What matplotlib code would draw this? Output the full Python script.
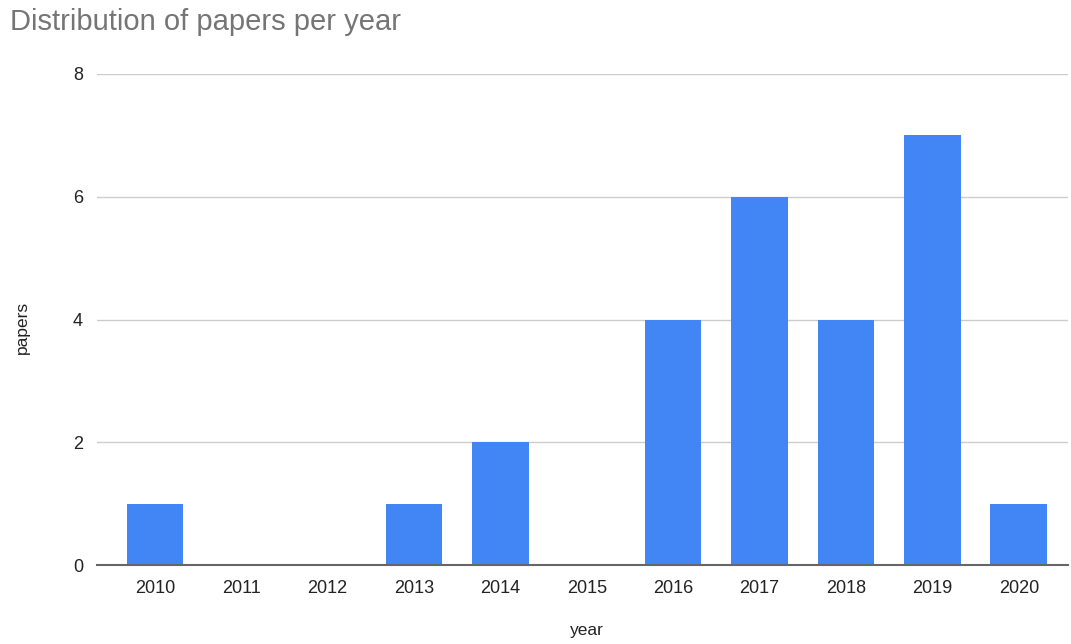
import matplotlib.pyplot as plt

# Data.
years = ["2010", "2011", "2012", "2013", "2014", "2015",
         "2016", "2017", "2018", "2019", "2020"]
papers = [1, 0, 0, 1, 2, 0, 4, 6, 4, 7, 1]

plt.rcParams["font.family"] = ["Liberation Sans", "DejaVu Sans"]

fig = plt.figure(figsize=(10.71, 6.44), dpi=100)
ax = fig.add_axes([97 / 1071, 79 / 644, 971 / 1071, 491 / 644])

x = list(range(len(years)))
ax.bar(x, papers, width=0.655, color="#4285F4", zorder=3)

ax.set_xlim(-0.67, 10.57)
ax.set_ylim(0, 8)
ax.set_yticks([0, 2, 4, 6, 8])
ax.set_xticks(x)
ax.set_xticklabels(years)

ax.grid(axis="y", color="#cccccc", linewidth=1, zorder=0)
for s in ["top", "right", "left"]:
    ax.spines[s].set_visible(False)
ax.spines["bottom"].set_color("#666666")
ax.spines["bottom"].set_linewidth(1.5)
ax.spines["bottom"].set_zorder(4)

ax.tick_params(axis="both", length=0, labelsize=13, colors="#222222")
ax.tick_params(axis="x", pad=11)
ax.tick_params(axis="y", pad=10)

# Axis titles placed in figure pixels, as in the reference.
fig.text(587 / 1071, 1 - 630 / 644, "year", fontsize=12.5, color="#222222",
         ha="center", va="center")
fig.text(22 / 1071, 1 - 327 / 644, "papers", fontsize=12.5, color="#222222",
         ha="center", va="center", rotation=90)

fig.text(10 / 1071, 1 - 22 / 644, "Distribution of papers per year",
         fontsize=21, color="#757575", va="center", ha="left")

fig.savefig("out.png", dpi=100)
